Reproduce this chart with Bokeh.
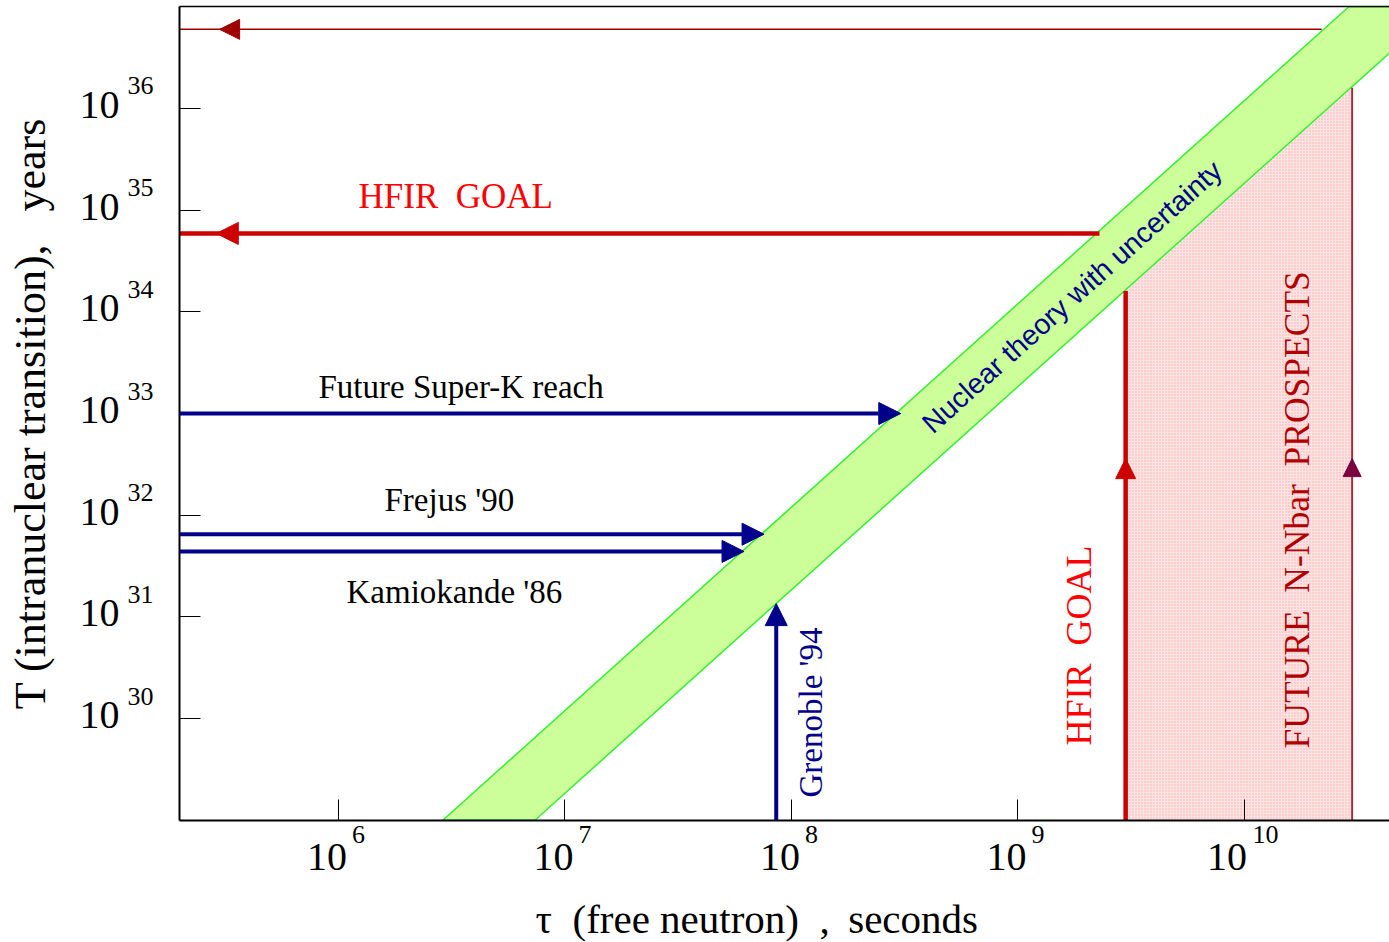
from bokeh.plotting import figure
from bokeh.models import (Range1d, Label, Arrow, NormalHead, FixedTicker, LogAxis,
                          CustomJSTickFormatter, Title)
from bokeh.embed import file_html
from bokeh.resources import INLINE

# ---------------- data ----------------
x_tick_exps = ["6", "7", "8", "9", "10"]
y_tick_exps = ["30", "31", "32", "33", "34", "35", "36"]

# nuclear theory band (T ~ tau^2), edges given by two points each
band_T = [1e29, 1e37]
band_tau_left = [2.9e6, 2.9e10]
band_tau_right = [7.4e6, 7.4e10]

exp_names = ["Future Super-K reach", "Frejus '90", "Kamiokande '86"]
exp_T = [1.0e33, 6.5e31, 4.4e31]
exp_tau = [3.05e8, 7.6e7, 6.2e7]

grenoble_tau = 8.6e7
grenoble_T = 1.35e31

hfir_goal_T = 5.9e34
hfir_goal_tau_end = 2.3e9
hfir_tau = 3.0e9
hfir_T_end = 1.6e34

future_tau = 3.0e10
future_T_end = 1.6e36
future_line_T = 6.0e36
future_line_tau_end = 2.2e10

x_lo, x_hi = 10.0 ** 5.30, 10.0 ** 10.642
y_lo, y_hi = 10.0 ** 28.997, 10.0 ** 37.003

# ---------------- styles ----------------
serif = "Liberation Serif"
navy = "#00008b"
red = "#cc0000"
bright_red = "#ff0000"
dark_red = "#990000"
maroon = "#7a0040"
NB = "\u00a0"
PX_X = 226.5   # pixels per decade, x
PX_Y = 101.7   # pixels per decade, y

p = figure(width=1389, height=942, x_axis_type="log", y_axis_type="log",
           x_range=Range1d(x_lo, x_hi), y_range=Range1d(y_lo, y_hi),
           output_backend="svg", toolbar_location=None,
           min_border_left=179, min_border_right=0, min_border_top=6,
           min_border_bottom=122)
p.grid.visible = False
p.background_fill_color = "white"
p.border_fill_color = "white"
p.outline_line_color = None


def tick_only(ax, ticks, lw):
    ax.ticker = FixedTicker(ticks=ticks)
    ax.axis_line_color = "black"
    ax.axis_line_width = lw
    ax.major_tick_in = 21
    ax.major_tick_out = 0
    ax.minor_tick_line_color = None
    ax.major_tick_line_color = "black"
    ax.major_tick_line_width = 1
    ax.major_label_text_font_size = "1px"
    ax.major_label_text_alpha = 0
    ax.major_label_standoff = 0


tick_only(p.xaxis[0], [10.0 ** int(e) for e in x_tick_exps], 2)
tick_only(p.yaxis[0], [10.0 ** int(e) for e in y_tick_exps], 2)

# top border line
top_ax = LogAxis(ticker=FixedTicker(ticks=[]), axis_line_color="black", axis_line_width=1.5,
                 major_tick_line_color=None, minor_tick_line_color=None,
                 major_label_text_font_size="1px", major_label_text_alpha=0,
                 major_label_standoff=0)
p.add_layout(top_ax, "above")


def label_axis(ticks, code, size, standoff):
    ax = LogAxis(ticker=FixedTicker(ticks=ticks),
                 formatter=CustomJSTickFormatter(code=code),
                 axis_line_color=None, major_tick_line_color=None,
                 minor_tick_line_color=None, major_label_standoff=standoff,
                 major_label_text_font=serif, major_label_text_font_size=size,
                 major_label_text_color="black")
    return ax


exp_code = "return String(Math.round(Math.log10(tick)));"
ten_code = "return '10';"

# x tick labels: exponent row then "10" row
x_sup_ticks = [10.0 ** (int(e) + (20.5 if len(e) == 1 else 21.5) / PX_X) for e in x_tick_exps]
x_ten_ticks = [10.0 ** (int(e) - (11 if len(e) == 1 else 17) / PX_X) for e in x_tick_exps]
p.add_layout(label_axis(x_sup_ticks, exp_code, "26px", -1), "below")
x_ten = label_axis(x_ten_ticks, ten_code, "40px", -8)
# invisible spacer below the "10" row
x_ten.axis_label = NB
x_ten.axis_label_text_alpha = 0
x_ten.axis_label_text_font_size = "10px"
x_ten.axis_label_standoff = 7
p.add_layout(x_ten, "below")

# y tick labels: exponent column then "10" column
y_sup_ticks = [10.0 ** (int(e) + 22.5 / PX_Y) for e in y_tick_exps]
y_ten_ticks = [10.0 ** (int(e) + 3.5 / PX_Y) for e in y_tick_exps]
p.add_layout(label_axis(y_sup_ticks, exp_code, "26px", 20), "left")
y_ten = label_axis(y_ten_ticks, ten_code, "40px", -1)
y_ten.axis_label = "T (intranuclear transition)," + NB + NB + " years"
y_ten.axis_label_text_font = serif
y_ten.axis_label_text_font_size = "44px"
y_ten.axis_label_text_font_style = "normal"
y_ten.axis_label_text_color = "black"
y_ten.axis_label_standoff = 22
p.add_layout(y_ten, "left")

p.add_layout(Title(text="\u03c4" + NB + " (free neutron)" + NB + " ,\u2009 seconds",
                   align="left", offset=356,
                   text_font=serif, text_font_size="41px", text_font_style="normal",
                   text_color="black", standoff=0), "below")

# pink prospects region
p.patch([hfir_tau, hfir_tau, future_tau, future_tau],
        [y_lo, hfir_T_end, future_T_end, y_lo],
        fill_color="#ffe4e4", line_color=None,
        hatch_pattern="dot", hatch_color="#ffaaaa", hatch_scale=3, hatch_weight=1)

# theory band
p.patch(band_tau_left + band_tau_right[::-1], band_T + band_T[::-1],
        fill_color="#ccff99", line_color="#33ee33", line_width=1.5)

# lines
p.segment(x0=[x_lo], y0=[hfir_goal_T], x1=[hfir_goal_tau_end], y1=[hfir_goal_T],
          line_color=red, line_width=4.5)
p.segment(x0=[hfir_tau], y0=[y_lo], x1=[hfir_tau], y1=[hfir_T_end],
          line_color=red, line_width=4.5)
p.segment(x0=[future_tau], y0=[y_lo], x1=[future_tau], y1=[future_T_end],
          line_color="#a03040", line_width=2)
p.segment(x0=[x_lo], y0=[future_line_T], x1=[future_line_tau_end], y1=[future_line_T],
          line_color=dark_red, line_width=1.5)


def head(c, s=22):
    return NormalHead(size=s, fill_color=c, line_color=c, line_width=1)


for T, tau in zip(exp_T, exp_tau):
    p.add_layout(Arrow(end=head(navy), x_start=x_lo, y_start=T, x_end=tau, y_end=T,
                       line_color=navy, line_width=4))
p.add_layout(Arrow(end=head(navy), x_start=grenoble_tau, y_start=y_lo,
                   x_end=grenoble_tau, y_end=grenoble_T, line_color=navy, line_width=4))

# mid-line arrow heads
p.add_layout(Arrow(end=head(red), x_start=4.0e5, y_start=hfir_goal_T, x_end=2.9e5,
                   y_end=hfir_goal_T, line_alpha=0))
p.add_layout(Arrow(end=head("#a00000", 20), x_start=4.2e5, y_start=future_line_T,
                   x_end=3.0e5, y_end=future_line_T, line_alpha=0))
p.add_layout(Arrow(end=head(red, 20), x_start=hfir_tau, y_start=2.0e32,
                   x_end=hfir_tau, y_end=3.6e32, line_alpha=0))
p.add_layout(Arrow(end=head(maroon, 18), x_start=future_tau, y_start=2.0e32,
                   x_end=future_tau, y_end=3.6e32, line_alpha=0))


# annotations in plot
def lab(**kw):
    kw.setdefault("text_font", serif)
    kw.setdefault("text_baseline", "alphabetic")
    p.add_layout(Label(**kw))


lab(x=x_lo, y=hfir_goal_T, text="HFIR" + NB + " GOAL", x_offset=179, y_offset=37,
    text_font_size="35px", text_color=bright_red)
offs = [(139, 27), (205, 34), (167, -41)]
for name, T, (dx, dy) in zip(exp_names, exp_T, offs):
    lab(x=x_lo, y=T, text=name, x_offset=dx, y_offset=dy,
        text_font_size="33px", text_color="black")
lab(x=grenoble_tau, y=y_lo, text="Grenoble '94", angle=90, angle_units="deg",
    x_offset=35, y_offset=23, text_font_size="33px", text_color=navy)
lab(x=hfir_tau, y=y_lo, text="HFIR" + NB + " GOAL", angle=90, angle_units="deg",
    x_offset=-47, y_offset=75, text_font_size="36px", text_color=bright_red)
lab(x=future_tau, y=y_lo, text="FUTURE" + NB + " N-Nbar" + NB + " PROSPECTS", angle=90,
    angle_units="deg", x_offset=-55, y_offset=72, text_font_size="35.5px",
    text_color="#b00000")
lab(x=10.0 ** 9.24, y=10.0 ** 34.15, text="Nuclear theory with uncertainty",
    angle=41.9, angle_units="deg", text_align="center", text_baseline="middle",
    text_font="Liberation Sans", text_font_size="28.5px", text_color=navy)

open("out.html", "w").write(file_html(p, INLINE))
